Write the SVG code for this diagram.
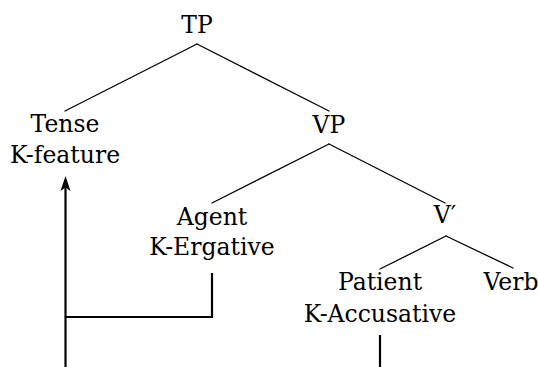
<svg xmlns="http://www.w3.org/2000/svg" width="538" height="367" viewBox="0 0 538 367">
<style>
text{font-family:'DejaVu Serif','Liberation Serif',serif;font-size:23.5px;fill:#000;text-anchor:middle}
.e{stroke:#000;stroke-width:1.3;fill:none;stroke-linecap:round}
.m{stroke:#000;stroke-width:2.2;fill:none}
</style>
<rect width="538" height="367" fill="#fff"/>
<g id="connectors">
<line class="e" x1="197" y1="44" x2="65" y2="111"/>
<line class="e" x1="197" y1="44" x2="329" y2="111"/>
<line class="e" x1="329" y1="144" x2="212" y2="203"/>
<line class="e" x1="329" y1="144" x2="445" y2="203"/>
<line class="e" x1="446" y1="236" x2="380" y2="269"/>
<line class="e" x1="446" y1="236" x2="513" y2="268"/>
<path class="m" d="M65.5,367 V186"/>
<path d="M65.5,176 L70.5,191 L65.5,187.5 L60.5,191 Z" fill="#000"/>
<path class="m" d="M65.5,317 H212 V273"/>
<path class="m" d="M380,335 V367"/>
</g>
<g id="TP"><text x="197" y="33">TP</text></g>
<g id="Tense"><text x="65" y="132">Tense</text><text x="65" y="163">K-feature</text></g>
<g id="VP"><text x="329" y="133">VP</text></g>
<g id="Agent"><text x="212" y="225">Agent</text><text x="212" y="255">K-Ergative</text></g>
<g id="Vbar"><text x="445" y="223">V′</text></g>
<g id="Patient"><text x="380" y="290">Patient</text><text x="380" y="322">K-Accusative</text></g>
<g id="Verb"><text x="511" y="290">Verb</text></g>
</svg>
